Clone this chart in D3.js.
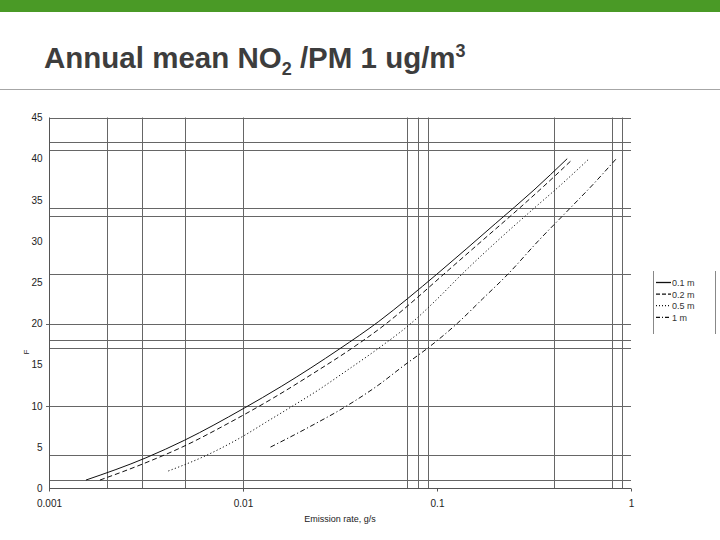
<!DOCTYPE html>
<html><head><meta charset="utf-8">
<script src="https://cdn.jsdelivr.net/npm/d3@7/dist/d3.min.js"></script>
<style>body{margin:0;background:#fff}svg{display:block}</style>
</head><body>
<svg id="c" width="720" height="540"></svg>
<script>
// ---- data ----
const seriesNames = ["0.1 m", "0.2 m", "0.5 m", "1 m"];
const x01 = [0.00155, 0.00316, 0.00501, 0.01, 0.01585, 0.0316, 0.0501, 0.0708, 0.1, 0.1995, 0.316, 0.469];
const y01 = [1.0, 3.7, 5.85, 9.65, 12.4, 16.95, 20.25, 23.05, 26.0, 32.1, 36.2, 40.0];
const x02 = [0.00183, 0.003076, 0.004853, 0.00857, 0.01442, 0.0232, 0.03648, 0.05483, 0.07784, 0.1086, 0.1699, 0.2661, 0.4093, 0.4982];
const y02 = [1.0, 3.0, 5.0, 8.0, 11.0, 14.0, 17.0, 20.0, 23.0, 26.0, 30.0, 34.0, 38.0, 39.9];
const x05 = [0.00412, 0.00648, 0.00997, 0.01309, 0.01807, 0.02472, 0.03289, 0.05, 0.0733, 0.1005, 0.1346, 0.2042, 0.317, 0.4434, 0.6086];
const y05 = [2.1, 4.0, 6.3, 8.0, 10.0, 12.0, 14.0, 17.0, 20.0, 23.0, 26.0, 30.0, 34.0, 37.0, 40.0];
const x1 = [0.01386, 0.02218, 0.03428, 0.04969, 0.06843, 0.0894, 0.127, 0.172, 0.2323, 0.3322, 0.4858, 0.6445, 0.8475];
const y1 = [5.0, 7.5, 10.0, 12.5, 15.0, 17.0, 20.0, 23.0, 26.0, 30.0, 34.0, 37.0, 40.1];
const xTicks = [0.001, 0.01, 0.1, 1];
const xTickLabels = ["0.001", "0.01", "0.1", "1"];
const yTicks = [0, 5, 10, 15, 20, 25, 30, 35, 40, 45];
const xGrid = [0.002, 0.003, 0.005, 0.01, 0.07, 0.08, 0.09, 0.4, 0.8, 0.9];
const yGrid = [1, 4, 10, 17, 18, 20, 26, 33, 34, 41, 42, 45];
const dashes = ["", "5,3", "1.2,2.3", "5,2.5,1.2,2.5"];
const legendDashes = ["", "4,2", "1,2", "4,2,1,2"];

(function () {
const svg = d3.select("#c");
const FONT = "Liberation Sans, Arial, sans-serif";
// header
svg.append("rect").attr("x", 0).attr("y", 0).attr("width", 720).attr("height", 12).attr("fill", "#4a9a26");
svg.append("line").attr("x1", 0).attr("x2", 720).attr("y1", 89.5).attr("y2", 89.5).attr("stroke", "#a6a6a6").attr("stroke-width", 1);
const title = svg.append("text").attr("x", 44).attr("y", 68).attr("font-family", FONT)
  .attr("font-weight", "bold").attr("font-size", 29.5).attr("fill", "#3d3d3d");
title.append("tspan").text("Annual mean NO");
title.append("tspan").text("2").attr("font-size", 18).attr("dy", 7);
title.append("tspan").text(" /PM 1 ug/m").attr("dy", -7);
title.append("tspan").text("3").attr("font-size", 18).attr("dy", -11);

// scales
const x = d3.scaleLog().domain([0.001, 1]).range([49, 631]);
const y = d3.scaleLinear().domain([0, 45]).range([488.3, 117.5]);
const pl = x(0.001), pr = x(1), pt = y(45), pb = y(0);

const g = svg.append("g");
g.selectAll("line.hg").data(yGrid).enter().append("line")
  .attr("x1", d => yTicks.includes(d) && d !== 45 ? pl - 3 : pl).attr("x2", pr)
  .attr("y1", d => Math.round(y(d)) + 0.5).attr("y2", d => Math.round(y(d)) + 0.5)
  .attr("stroke", "#666").attr("stroke-width", 1);
g.selectAll("line.vg").data(xGrid).enter().append("line")
  .attr("x1", d => Math.round(x(d)) + 0.5).attr("x2", d => Math.round(x(d)) + 0.5)
  .attr("y1", pt).attr("y2", d => xTicks.includes(d) ? pb + 3 : pb)
  .attr("stroke", "#666").attr("stroke-width", 1);

const xAxis = d3.axisBottom(x).tickValues(xTicks).tickFormat((d, i) => xTickLabels[i]).tickSize(3).tickPadding(8);
const yAxis = d3.axisLeft(y).tickValues(yTicks).tickSize(0).tickPadding(7);
const gx = svg.append("g").attr("transform", `translate(0,${Math.round(pb) + 0.5})`).call(xAxis);
const gy = svg.append("g").attr("transform", `translate(${Math.round(pl) + 0.5},0)`).call(yAxis);
[gx, gy].forEach(a => {
  a.select(".domain").attr("stroke", "#555");
  a.selectAll(".tick line").attr("stroke", "#555");
  a.selectAll("text").attr("font-family", FONT).attr("font-size", 10).attr("fill", "#222");
});
gy.select(".domain").attr("d", `M0,${pt}V${pb}`);
gx.select(".domain").attr("d", `M${pl},0H${pr}`);

svg.append("text").attr("x", 340).attr("y", 522).attr("text-anchor", "middle")
  .attr("font-family", FONT).attr("font-size", 9).attr("fill", "#222").text("Emission rate, g/s");
svg.append("text").attr("transform", "translate(29,352) rotate(-90)").attr("text-anchor", "middle")
  .attr("font-family", FONT).attr("font-size", 8).attr("fill", "#222").text("F");

const series = [[x01, y01], [x02, y02], [x05, y05], [x1, y1]];
const line = d3.line().x(d => x(d[0])).y(d => y(d[1])).curve(d3.curveMonotoneX);
series.forEach((s, i) => {
  const pts = s[0].map((v, k) => [v, s[1][k]]);
  svg.append("path").attr("d", line(pts)).attr("fill", "none").attr("stroke", "#111")
    .attr("stroke-width", 1).attr("stroke-dasharray", dashes[i]);
});

const lg = svg.append("g");
lg.append("line").attr("x1", 653.5).attr("x2", 653.5).attr("y1", 271).attr("y2", 334).attr("stroke", "#888");
lg.append("line").attr("x1", 715.5).attr("x2", 715.5).attr("y1", 271).attr("y2", 334).attr("stroke", "#888");
seriesNames.forEach((n, i) => {
  const yy = 282.5 + i * 11.6;
  lg.append("line").attr("x1", 656).attr("x2", 671).attr("y1", yy).attr("y2", yy)
    .attr("stroke", "#111").attr("stroke-width", 1.3).attr("stroke-dasharray", legendDashes[i]);
  lg.append("text").attr("x", 672).attr("y", yy + 3.5).attr("font-family", FONT)
    .attr("font-size", 9).attr("fill", "#333").text(n);
});
})();
</script>
</body></html>
